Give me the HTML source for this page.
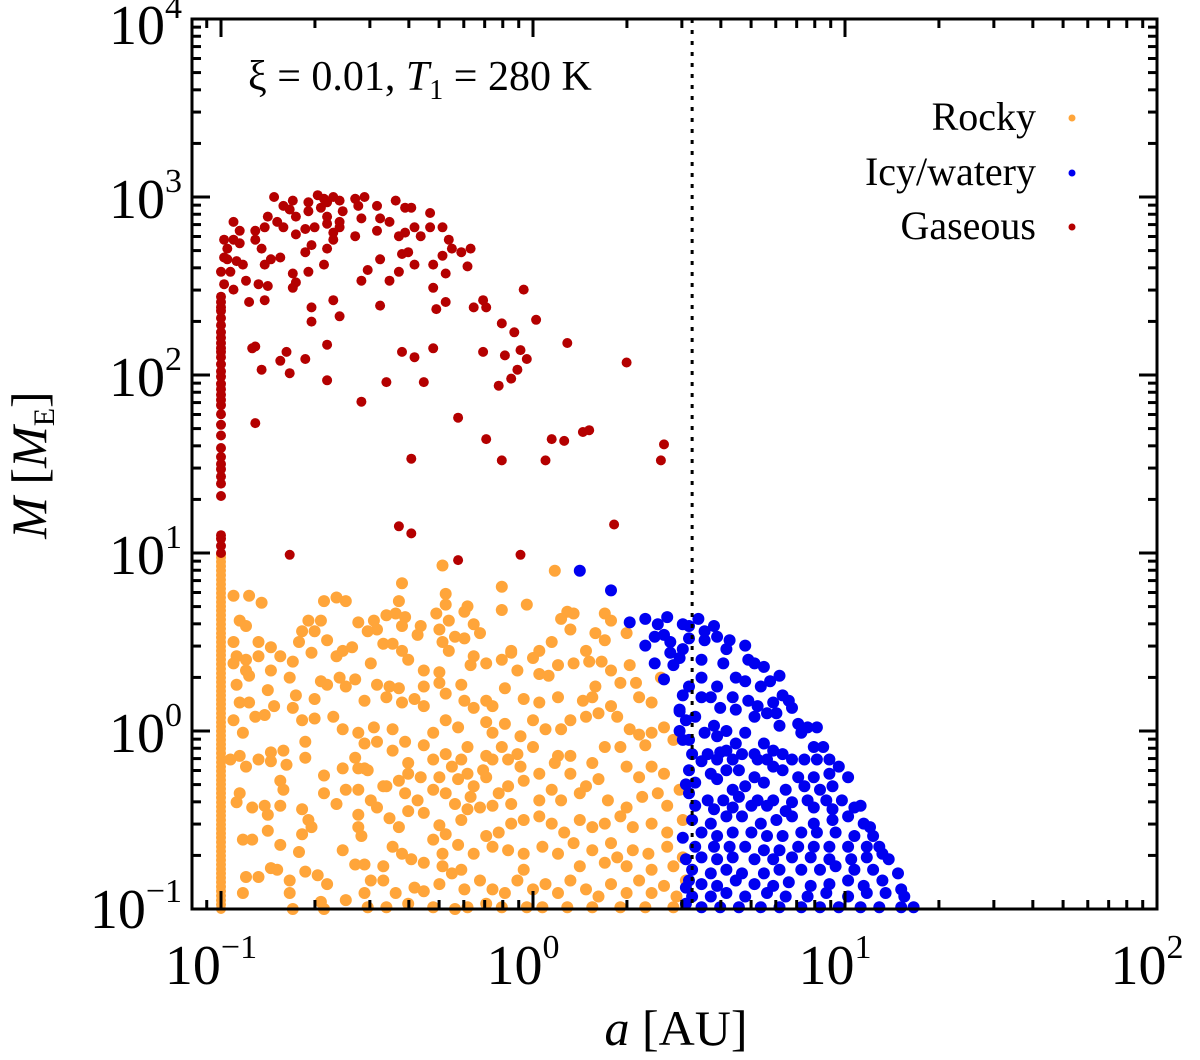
<!DOCTYPE html>
<html><head><meta charset="utf-8"><style>
html,body{margin:0;padding:0;background:#fff;}
svg{display:block;font-family:"Liberation Serif",serif;}
</style></head><body>
<svg id="chart" width="1200" height="1060" viewBox="0 0 1200 1060">
<g id="marks"></g>
<g id="axes"></g>
<text x="248" y="90" font-size="42">ξ = 0.01, <tspan font-style="italic">T</tspan><tspan font-size="28" dy="9">1</tspan><tspan dy="-9"> = 280 K</tspan></text>
<g>
<text x="1036" y="130" font-size="40" text-anchor="end">Rocky</text>
<circle cx="1072" cy="118" r="3.5" fill="#ffa53a"/>
<text x="1036" y="185" font-size="40" text-anchor="end">Icy/watery</text>
<circle cx="1072" cy="173" r="3.5" fill="#0000f0"/>
<text x="1036" y="239" font-size="40" text-anchor="end">Gaseous</text>
<circle cx="1072" cy="227" r="3.5" fill="#b40000"/>
</g>
<text x="676" y="1045" font-size="50" text-anchor="middle"><tspan font-style="italic">a</tspan> [AU]</text>
<text transform="translate(46,465) rotate(-90)" font-size="50" text-anchor="middle"><tspan font-style="italic">M</tspan> [<tspan font-style="italic">M</tspan><tspan font-size="30" dy="8">E</tspan><tspan dy="-8">]</tspan></text>
</svg>
<script>
// log10(a [AU]), log10(M [M_E]) pairs
const gaseousPoints = [[-0.83,3.0],[-0.80,2.95],[-0.77,2.98],[-0.78,2.93],[-0.76,2.89],[-0.72,2.97],[-0.69,3.01],[-0.67,2.99],[-0.66,2.97],[-0.72,2.92],[-0.68,2.94],[-0.64,3.0],[-0.62,2.98],[-0.57,2.99],[-0.56,2.95],[-0.54,3.0],[-0.50,2.95],[-0.44,2.98],[-0.41,2.94],[-0.39,2.94],[-0.33,2.91],[-0.61,2.92],[-0.66,2.89],[-0.66,2.85],[-0.62,2.86],[-0.62,2.83],[-0.55,2.88],[-0.49,2.88],[-0.46,2.86],[-0.50,2.81],[-0.57,2.78],[-0.64,2.80],[-0.64,2.76],[-0.66,2.71],[-0.71,2.73],[-0.73,2.69],[-0.76,2.79],[-0.73,2.82],[-0.70,2.83],[-0.80,2.83],[-0.82,2.86],[-0.85,2.89],[-0.86,2.83],[-0.89,2.81],[-0.94,2.81],[-0.96,2.86],[-0.99,2.76],[-0.96,2.76],[-0.94,2.74],[-0.98,2.71],[-0.99,2.66],[-0.98,2.65],[-0.95,2.64],[-0.93,2.62],[-0.89,2.76],[-0.87,2.71],[-0.84,2.65],[-0.81,2.66],[-0.86,2.62],[-0.97,2.58],[-1.0,2.58],[-0.99,2.51],[-0.96,2.48],[-0.92,2.53],[-0.88,2.51],[-0.85,2.5],[-0.91,2.41],[-0.86,2.42],[-0.77,2.57],[-0.76,2.52],[-0.77,2.49],[-0.72,2.58],[-0.67,2.62],[-0.71,2.38],[-0.71,2.30],[-0.64,2.42],[-0.62,2.33],[-0.55,2.53],[-0.53,2.59],[-0.49,2.65],[-0.46,2.53],[-0.43,2.58],[-0.43,2.78],[-0.41,2.80],[-0.38,2.83],[-0.36,2.78],[-0.33,2.83],[-0.29,2.83],[-0.27,2.76],[-0.26,2.71],[-0.23,2.69],[-0.20,2.71],[-0.21,2.61],[-0.28,2.57],[-0.32,2.62],[-0.29,2.67],[-0.38,2.62],[-0.42,2.68],[-0.40,2.69],[-0.49,2.39],[-0.32,2.49],[-0.28,2.41],[-0.31,2.37],[-0.19,2.38],[-0.16,2.42],[-0.15,2.38],[-0.03,2.48],[-0.10,2.29],[-0.06,2.24],[0.01,2.31],[0.11,2.18],[-0.04,2.14],[-0.02,2.09],[-0.09,2.11],[-0.16,2.13],[-0.05,2.03],[-0.07,1.98],[-0.11,1.94],[0.30,2.07],[-0.32,2.15],[-0.38,2.10],[-0.42,2.13],[-0.47,1.96],[-0.35,1.96],[-0.66,1.97],[-0.66,2.17],[-0.73,2.09],[-0.79,2.13],[-0.81,2.08],[-0.87,2.03],[-0.78,2.01],[-0.90,2.15],[-0.89,2.16],[-0.89,1.73],[-0.55,1.85],[-0.24,1.76],[-0.39,1.53],[-0.15,1.64],[-0.10,1.52],[0.04,1.52],[0.06,1.64],[0.10,1.63],[0.16,1.68],[0.18,1.69],[0.42,1.61],[0.41,1.52],[0.26,1.16],[-0.43,1.15],[-0.39,1.11],[-0.78,0.99],[-0.24,0.96],[-0.04,0.99]];
const gaseousColumnLogM = [2.44,2.41,2.38,2.36,2.32,2.28,2.24,2.21,2.18,2.15,2.13,2.10,2.06,2.02,1.99,1.95,1.92,1.89,1.86,1.83,1.78,1.72,1.66,1.59,1.54,1.50,1.47,1.43,1.39,1.32,1.10,1.08,1.04,1.0];
const gaseousColumnLogA = -1.0;

const rockyPoints = [[-0.29,0.93],[0.07,0.90],[-0.42,0.83],[-0.10,0.81],[-0.28,0.77],[-0.96,0.76],[-0.91,0.76],[-0.87,0.72],[-0.67,0.73],[-0.63,0.75],[-0.60,0.73],[-0.43,0.73],[-0.28,0.71],[-0.02,0.71],[-0.10,0.68],[0.11,0.67],[0.13,0.66],[-0.21,0.70],[-0.22,0.67],
[-0.94,0.62],[-0.92,0.59],[-0.72,0.62],[-0.68,0.62],[-0.56,0.61],[-0.51,0.62],[-0.47,0.65],[-0.44,0.66],[-0.41,0.64],[-0.42,0.59],[-0.36,0.59],[-0.31,0.66],[-0.27,0.62],[-0.30,0.57],[-0.19,0.60],[-0.17,0.55],[0.09,0.63],[0.12,0.57],[0.23,0.66],[0.25,0.62],[0.30,0.55],[0.20,0.55],[0.23,0.51],[-0.74,0.56],[-0.70,0.56],[-0.66,0.51],[-0.53,0.56],[-0.50,0.57],[-0.48,0.49],[-0.45,0.49],[-0.37,0.54],[-0.29,0.50],[-0.25,0.53],[-0.22,0.52],[-0.96,0.50],[-0.88,0.50],[-0.84,0.47],[-0.75,0.50],[-0.71,0.44],[-0.63,0.42],[-0.61,0.45],[-0.58,0.47],[-0.42,0.45],[-0.40,0.40],[-0.27,0.45],[-0.19,0.42],[-0.07,0.45],[0.02,0.45],[0.06,0.50],[0.17,0.45],
[-0.95,0.42],[-0.96,0.38],[-0.92,0.40],[-0.88,0.42],[-0.81,0.42],[-0.77,0.39],[-0.92,0.34],[-0.91,0.31],[-0.84,0.34],[-0.78,0.30],[-0.68,0.28],[-0.66,0.26],[-0.62,0.30],[-0.60,0.25],[-0.57,0.29],[-0.52,0.38],[-0.50,0.26],[-0.46,0.25],[-0.43,0.24],[-0.35,0.34],[-0.30,0.33],[-0.35,0.25],[-0.30,0.27],[-0.23,0.26],[-0.20,0.37],[-0.15,0.38],[-0.10,0.40],[-0.07,0.44],[-0.05,0.34],[0.00,0.41],[0.08,0.37],[0.13,0.38],[0.18,0.39],[0.22,0.39],[0.25,0.34],[0.31,0.37],[0.05,0.31],[0.02,0.32],[0.20,0.25],[0.28,0.27],[0.33,0.27],[0.41,0.30],[-0.95,0.26],[-0.85,0.23],[-0.94,0.16],[-0.91,0.16],[-0.83,0.14],[-0.76,0.20],[-0.70,0.18],[-0.54,0.17],[-0.47,0.19],[-0.42,0.16],[-0.38,0.18],[-0.35,0.14],[-0.28,0.21],[-0.22,0.17],[-0.19,0.13],[-0.15,0.17],[-0.13,0.14],[-0.09,0.24],[-0.03,0.18],[0.02,0.16],[0.08,0.19],[0.16,0.17],[0.19,0.19],[0.25,0.14],[0.34,0.19],[0.38,0.16],
[-0.96,0.06],[-0.93,-0.01],[-0.89,0.08],[-0.86,0.09],[-0.77,0.13],[-0.74,0.06],[-0.70,0.07],[-0.64,0.08],[-0.61,0.01],[-0.56,-0.01],[-0.51,0.02],[-0.45,0.01],[-0.50,-0.06],[-0.54,-0.07],[-0.57,-0.15],[-0.54,-0.21],[-0.45,-0.11],[-0.41,-0.06],[-0.35,-0.08],[-0.32,-0.01],[-0.28,0.06],[-0.24,0.02],[-0.21,-0.09],[-0.15,0.05],[-0.13,-0.01],[-0.09,0.04],[-0.04,-0.03],[0.00,0.06],[0.04,0.01],[0.09,0.01],[0.12,0.06],[0.17,0.08],[0.21,0.10],[0.27,0.08],[0.31,0.01],[0.34,-0.02],[0.38,-0.01],[0.42,0.02],[0.45,-0.05],[0.23,-0.09],[0.28,-0.09],[0.36,-0.08],[0.08,-0.14],[0.12,-0.14],[0.00,-0.09],[-0.05,-0.13],[-0.10,-0.09],[-0.15,-0.14],[-0.23,-0.16],[-0.28,-0.13],[-0.32,-0.16],[-0.40,-0.18],[-0.84,-0.12],[-0.80,-0.11],[-0.73,-0.06],[-0.73,-0.15],[-0.97,-0.16],[-0.94,-0.14],[-0.88,-0.16],[-0.84,-0.17],[-0.79,-0.19],[-0.92,-0.20],
[-0.61,-0.21],[-0.56,-0.21],[-0.53,-0.22],[-0.47,-0.31],[-0.43,-0.28],[-0.40,-0.24],[-0.36,-0.26],[-0.30,-0.26],[-0.26,-0.20],[-0.21,-0.24],[-0.16,-0.22],[-0.13,-0.16],[-0.08,-0.16],[-0.04,-0.20],[0.02,-0.24],[0.07,-0.18],[0.12,-0.24],[0.19,-0.18],[0.21,-0.27],[0.30,-0.20],[0.34,-0.26],[0.38,-0.20],[0.42,-0.24],[0.47,-0.33],[-0.03,-0.28],[-0.08,-0.31],[-0.11,-0.35],[-0.15,-0.26],[-0.19,-0.31],[-0.24,-0.27],[-0.28,-0.35],[-0.32,-0.33],[-0.37,-0.39],[-0.41,-0.35],[-0.48,-0.31],[-0.52,-0.39],[-0.56,-0.33],[-0.60,-0.33],[-0.67,-0.25],[-0.67,-0.35],[-0.63,-0.41],[-0.81,-0.28],[-0.80,-0.33],[-0.94,-0.35],[-0.95,-0.40],[-0.90,-0.43],[-0.86,-0.42],[-0.81,-0.42],[-0.85,-0.47],[0.02,-0.39],[0.06,-0.33],[0.09,-0.39],[0.15,-0.35],[0.17,-0.31],[0.24,-0.39],[0.30,-0.43],[0.35,-0.37],[0.40,-0.35],[0.43,-0.42],[-0.07,-0.41],[-0.13,-0.42],[-0.20,-0.37],[-0.25,-0.41],
[-0.74,-0.44],[-0.72,-0.50],[-0.71,-0.54],[-0.74,-0.58],[-0.56,-0.47],[-0.56,-0.54],[-0.55,-0.59],[-0.50,-0.43],[-0.46,-0.49],[-0.43,-0.54],[-0.40,-0.45],[-0.35,-0.46],[-0.30,-0.53],[-0.28,-0.58],[-0.23,-0.50],[-0.21,-0.44],[-0.17,-0.43],[-0.15,-0.59],[-0.11,-0.57],[-0.07,-0.52],[-0.03,-0.50],[0.02,-0.48],[0.06,-0.52],[0.10,-0.57],[0.15,-0.50],[0.19,-0.54],[0.23,-0.52],[0.28,-0.48],[0.32,-0.54],[0.38,-0.52],[0.43,-0.57],[0.48,-0.50],[-0.93,-0.61],[-0.90,-0.61],[-0.85,-0.56],[-0.81,-0.64],[-0.75,-0.68],[-0.61,-0.67],[-0.45,-0.65],[-0.42,-0.69],[-0.32,-0.61],[-0.29,-0.69],[-0.24,-0.64],[-0.19,-0.69],[-0.13,-0.65],[-0.08,-0.67],[-0.03,-0.69],[0.03,-0.65],[0.08,-0.69],[0.13,-0.63],[0.19,-0.67],[0.25,-0.63],[0.32,-0.67],[0.37,-0.69],[0.43,-0.65],[0.48,-0.71],
[-0.92,-0.82],[-0.88,-0.82],[-0.84,-0.77],[-0.82,-0.78],[-0.78,-0.84],[-0.73,-0.79],[-0.69,-0.81],[-0.66,-0.86],[-0.93,-0.91],[-0.78,-0.91],[-0.68,-0.96],[-0.60,-0.95],[-0.54,-0.91],[-0.52,-0.84],[-0.48,-0.84],[-0.44,-0.91],[-0.38,-0.88],[-0.35,-0.90],[-0.30,-0.86],[-0.26,-0.80],[-0.22,-0.89],[-0.17,-0.84],[-0.13,-0.89],[-0.09,-0.91],[-0.05,-0.84],[0.00,-0.89],[0.04,-0.86],[0.08,-0.91],[0.12,-0.84],[0.17,-0.89],[0.21,-0.93],[0.25,-0.86],[0.30,-0.91],[0.34,-0.84],[0.38,-0.91],[0.42,-0.87],[0.46,-0.93],[0.49,-0.84],[-0.77,-1.0],[-0.67,-1.0],[-0.53,-0.99],[-0.40,-0.97],[-0.32,-0.99],[-0.25,-1.0],[-0.21,-0.99],[-0.10,-0.99],[-0.02,-0.99],[0.03,-0.99],[0.11,-0.99],[0.19,-0.99],[0.28,-0.99],[0.36,-0.99],[0.45,-0.99],[-0.47,-0.99],[-0.15,-0.97],[-0.35,-0.74],[-0.39,-0.72],[-0.57,-0.75],[-0.54,-0.75],[-0.48,-0.76],[-0.29,-0.76],[-0.23,-0.78],[-0.03,-0.78],[0.15,-0.76],[0.23,-0.74],[0.30,-0.76],[0.38,-0.78],[0.45,-0.76],[0.27,-0.71]];
const rockyColumnLogM = [-1.0,-0.975,-0.95,-0.925,-0.9,-0.875,-0.85,-0.825,-0.8,-0.775,-0.75,-0.725,-0.7,-0.675,-0.65,-0.625,-0.6,-0.575,-0.55,-0.525,-0.5,-0.475,-0.45,-0.425,-0.4,-0.375,-0.35,-0.325,-0.3,-0.275,-0.25,-0.225,-0.2,-0.175,-0.15,-0.125,-0.1,-0.075,-0.05,-0.025,0.0,0.025,0.05,0.075,0.1,0.125,0.15,0.175,0.2,0.225,0.25,0.275,0.3,0.325,0.35,0.375,0.4,0.425,0.45,0.475,0.5,0.525,0.55,0.575,0.6,0.625,0.65,0.675,0.7,0.725,0.75,0.775,0.8,0.825,0.85,0.875,0.9,0.925,0.95,0.975,0.99];
const rockyColumnLogA = -1.0;

const icyPoints = [[0.15,0.90],[0.25,0.79],[0.31,0.61],[0.36,0.63],[0.40,0.60],[0.43,0.64],[0.48,0.60],[0.50,0.59],[0.53,0.63],[0.55,0.56],[0.58,0.59],[0.39,0.53],[0.42,0.54],[0.44,0.50],[0.48,0.46],[0.50,0.52],[0.55,0.51],[0.59,0.53],[0.63,0.51],[0.68,0.48],[0.36,0.48],[0.44,0.44],[0.47,0.41],[0.62,0.46],
[0.39,0.38],[0.45,0.37],[0.54,0.40],[0.61,0.38],[0.69,0.40],[0.71,0.38],[0.74,0.36],[0.79,0.31],[0.54,0.30],[0.59,0.25],[0.65,0.30],[0.68,0.28],[0.73,0.25],[0.76,0.28],[0.42,0.29],[0.48,0.20],[0.54,0.19],[0.57,0.19],[0.64,0.19],[0.69,0.17],[0.77,0.16],[0.80,0.20],[0.82,0.17],[0.60,0.13],[0.65,0.12],[0.72,0.14],[0.50,0.25],
[0.47,0.11],[0.49,0.06],[0.52,0.08],[0.58,0.03],[0.62,0.00],[0.71,0.08],[0.75,0.10],[0.78,0.10],[0.83,0.13],[0.85,0.04],[0.88,0.02],[0.91,0.02],[0.47,0.00],[0.50,-0.05],[0.55,-0.01],[0.59,-0.03],[0.65,-0.07],[0.68,-0.01],[0.74,-0.07],[0.79,0.03],[0.86,-0.01],[0.90,-0.09],[0.93,-0.09],[0.51,-0.13],[0.56,-0.13],[0.60,-0.12],[0.62,-0.11],[0.67,-0.13],[0.71,-0.13],[0.77,-0.11],[0.80,-0.13],[0.54,-0.17],[0.59,-0.16],[0.64,-0.16],[0.72,-0.16],[0.75,-0.16],[0.83,-0.16],[0.87,-0.16],[0.91,-0.16],[0.95,-0.16],
[0.50,-0.22],[0.57,-0.24],[0.62,-0.22],[0.66,-0.22],[0.71,-0.26],[0.77,-0.20],[0.80,-0.22],[0.85,-0.26],[0.90,-0.26],[0.95,-0.24],[0.98,-0.20],[1.01,-0.26],[0.52,-0.29],[0.59,-0.27],[0.64,-0.33],[0.68,-0.31],[0.74,-0.29],[0.81,-0.33],[0.87,-0.31],[0.92,-0.33],[0.96,-0.31],[0.50,-0.35],[0.56,-0.39],[0.61,-0.39],[0.66,-0.37],[0.72,-0.39],[0.77,-0.39],[0.83,-0.40],[0.88,-0.39],[0.94,-0.39],[0.99,-0.39],[0.52,-0.42],[0.58,-0.44],[0.64,-0.43],[0.70,-0.42],[0.75,-0.42],[0.81,-0.45],[0.90,-0.43],[0.96,-0.44],[1.03,-0.43],[1.05,-0.42],
[0.51,-0.50],[0.57,-0.52],[0.62,-0.48],[0.67,-0.48],[0.73,-0.52],[0.78,-0.50],[0.83,-0.48],[0.90,-0.52],[0.96,-0.50],[1.01,-0.48],[1.06,-0.52],[1.08,-0.54],[0.54,-0.57],[0.59,-0.59],[0.64,-0.57],[0.70,-0.57],[0.75,-0.59],[0.80,-0.59],[0.86,-0.57],[0.91,-0.57],[0.97,-0.57],[1.03,-0.59],[1.09,-0.59],[0.52,-0.65],[0.58,-0.65],[0.63,-0.65],[0.68,-0.65],[0.74,-0.67],[0.79,-0.67],[0.85,-0.65],[0.90,-0.65],[0.95,-0.65],[1.01,-0.65],[1.07,-0.65],[1.11,-0.65],[0.54,-0.71],[0.59,-0.72],[0.64,-0.71],[0.71,-0.72],[0.77,-0.72],[0.83,-0.71],[0.89,-0.71],[0.95,-0.72],[1.02,-0.72],[1.07,-0.71],[1.12,-0.69],[1.14,-0.72],
[0.51,-0.78],[0.57,-0.80],[0.62,-0.78],[0.67,-0.80],[0.74,-0.80],[0.79,-0.78],[0.86,-0.78],[0.92,-0.78],[0.97,-0.76],[1.03,-0.78],[1.09,-0.78],[1.17,-0.80],[0.54,-0.86],[0.59,-0.87],[0.65,-0.84],[0.71,-0.86],[0.77,-0.87],[0.82,-0.85],[0.89,-0.87],[0.95,-0.86],[1.01,-0.84],[1.06,-0.87],[1.12,-0.84],[0.51,-0.93],[0.57,-0.93],[0.62,-0.91],[0.68,-0.93],[0.75,-0.91],[0.81,-0.93],[0.88,-0.93],[0.94,-0.91],[1.01,-0.93],[1.07,-0.91],[1.13,-0.91],[1.18,-0.89],[1.19,-0.93],[0.54,-0.99],[0.60,-0.99],[0.66,-0.99],[0.73,-0.99],[0.79,-0.99],[0.86,-0.99],[0.92,-0.99],[0.98,-0.99],[1.05,-0.99],[1.11,-0.99],[1.18,-0.99],[1.22,-0.99],
[0.49,-0.72],[0.50,-0.84],[0.49,-0.97],[0.47,0.12],[0.48,-0.05],[0.49,-0.30],[0.48,-0.60],[0.49,-0.88]];

const xTickExponents = [-1,0,1,2];
const yTickExponents = [-1,0,1,2,3,4];
const snowLineLogA = 0.51;

const SVGNS = "http://www.w3.org/2000/svg";
const L = 192, R = 1157, T = 19, B = 909;
const X_MIN = -1.093, X_MAX = 2.0, Y_MIN = -1.0, Y_MAX = 4.0;
function xScale(la){ return L + (la - X_MIN) / (X_MAX - X_MIN) * (R - L); }
function yScale(lm){ return B - (lm - Y_MIN) / (Y_MAX - Y_MIN) * (B - T); }
function mk(tag, attrs, parent){
  const e = document.createElementNS(SVGNS, tag);
  for (const k in attrs) e.setAttribute(k, attrs[k]);
  parent.appendChild(e);
  return e;
}
const marks = document.getElementById('marks');
const axes = document.getElementById('axes');

function drawPoints(points, color, r, name){
  const g = mk('g', {fill: color}, marks);
  
  
  points.forEach(p => {
    const c = mk('circle', {cx: xScale(p[0]).toFixed(1), cy: yScale(p[1]).toFixed(1), r: r}, g);
    
    
  });
}
drawPoints(rockyColumnLogM.map(m => [rockyColumnLogA, m]), '#ffa53a', 5, 'rocky-column');
drawPoints(rockyPoints, '#ffa53a', 6, 'rocky');
drawPoints(icyPoints, '#0000f0', 6, 'icy');
drawPoints(gaseousColumnLogM.map(m => [gaseousColumnLogA, m]), '#b40000', 5, 'gaseous-column');
drawPoints(gaseousPoints, '#b40000', 5, 'gaseous');

const sl = mk('line', {x1: xScale(snowLineLogA), x2: xScale(snowLineLogA), y1: T, y2: B, stroke: '#000', 'stroke-width': 3, 'stroke-dasharray': '4,7'}, marks);



const fr = mk('rect', {x: L, y: T, width: R - L, height: B - T, fill: 'none', stroke: '#000', 'stroke-width': 3}, axes);



const tg = mk('g', {stroke: '#000', 'stroke-width': 3}, axes);


for (let d = -2; d <= 3; d++){
  for (let k = 1; k <= 9; k++){
    const v = d + Math.log10(k);
    const len = k === 1 ? 18 : 9;
    if (v >= X_MIN && v <= X_MAX){
      const x = xScale(v);
      mk('line', {x1: x, x2: x, y1: B, y2: B - len}, tg);
      mk('line', {x1: x, x2: x, y1: T, y2: T + len}, tg);
    }
    if (v >= Y_MIN && v <= Y_MAX){
      const y = yScale(v);
      mk('line', {x1: L, x2: L + len, y1: y, y2: y}, tg);
      mk('line', {x1: R, x2: R - len, y1: y, y2: y}, tg);
    }
  }
}
xTickExponents.forEach(e => {
  const t = mk('text', {x: xScale(e) - 10, y: 984, 'font-size': 56, 'text-anchor': 'middle'}, axes);
  
  
  t.innerHTML = '10<tspan font-size="34" dy="-26">' + (e < 0 ? '\u2212' + (-e) : e) + '</tspan>';
});
yTickExponents.forEach(e => {
  const y = yScale(e);
  const t = mk('text', {x: 182, y: y + 21 + (e === 4 ? 4 : 0) - (e === -1 ? 2 : 0), 'font-size': 56, 'text-anchor': 'end'}, axes);
  
  
  t.innerHTML = '10<tspan font-size="34" dy="-26">' + (e < 0 ? '\u2212' + (-e) : e) + '</tspan>';
});
</script>
</body></html>
